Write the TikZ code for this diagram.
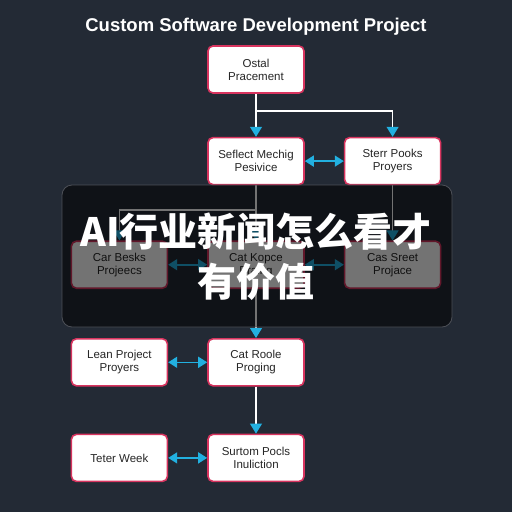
\documentclass[tikz,border=0pt]{standalone}
\usepackage{fontspec}
\setmainfont{Liberation Sans}
\newfontfamily\cjkfont{Noto Sans CJK SC}
\usetikzlibrary{arrows.meta, positioning}

\definecolor{bgslate}{HTML}{232A35}
\definecolor{boxedge}{HTML}{D8345F}
\definecolor{tipcyan}{HTML}{22B0E0}
\definecolor{boxtext}{HTML}{262626}

\begin{document}
\begin{tikzpicture}[x=1pt, y=-1pt, node distance=39pt]
	\tikzstyle{stepbox} = [draw=boxedge, line width=1.6pt, fill=white, rounded corners=5pt, minimum width=96pt, minimum height=47pt, align=center, text=boxtext, font=\fontsize{11.5}{13}\selectfont]
	\tikzstyle{flow} = [white, line width=1.1pt, -{Triangle[length=10pt, width=12pt, color=tipcyan]}]
	\tikzstyle{link} = [tipcyan, line width=1.6pt, {Triangle[length=9pt, width=11pt]}-{Triangle[length=9pt, width=11pt]}]

	\fill[bgslate] (0,0) rectangle (512,512);
	\useasboundingbox (0,0) rectangle (512,512);

	\node[white, font=\bfseries\fontsize{18.5}{22}\selectfont] (title) at (256,27) {Custom Software Development Project};

	% boxes
	\node[stepbox] (ostal) at (256,69.5) {Ostal\\Pracement};
	\node[stepbox, below=43pt of ostal] (seflect) {Seflect Mechig\\Pesivice};
	\node[stepbox, right=of seflect] (sterr) {Sterr Pooks\\Proyers};
	\node[stepbox, below=55pt of seflect] (kopce) {Cat Kopce\\Praing};
	\node[stepbox, left=of kopce] (besks) {Car Besks\\Projeecs};
	\node[stepbox, right=of kopce] (sreet) {Cas Sreet\\Projace};
	\node[stepbox, below=49pt of kopce] (roole) {Cat Roole\\Proging};
	\node[stepbox, left=of roole] (lean) {Lean Project\\Proyers};
	\node[stepbox, below=47pt of roole] (surtom) {Surtom Pocls\\Inuliction};
	\node[stepbox, left=of surtom] (teter) {Teter Week};

	\coordinate (fork) at (256,111);
	\coordinate (branch) at (256,210);

	% connectors
	\draw[flow] (ostal) -- (seflect);
	\draw[flow] (fork) -| (sterr);
	\draw[link] (seflect) -- (sterr);
	\draw[flow] (seflect) -- (kopce);
	\draw[flow] (branch) -| (besks);
	\draw[flow] (sterr) -- (sreet);
	\draw[link] (besks) -- (kopce);
	\draw[link] (kopce) -- (sreet);
	\draw[flow] (kopce) -- (roole);
	\draw[link] (lean) -- (roole);
	\draw[flow] (roole) -- (surtom);
	\draw[link] (teter) -- (surtom);

	% banner
	\draw[draw=gray!45!bgslate, line width=0.8pt, fill=black, fill opacity=0.55, rounded corners=10pt] (62,185) rectangle (452,327);
	\node[white, align=center, font=\cjkfont\bfseries\fontsize{39}{50}\selectfont] (headline) at (256,257) {AI行业新闻怎么看才\\有价值};
\end{tikzpicture}
\end{document}
